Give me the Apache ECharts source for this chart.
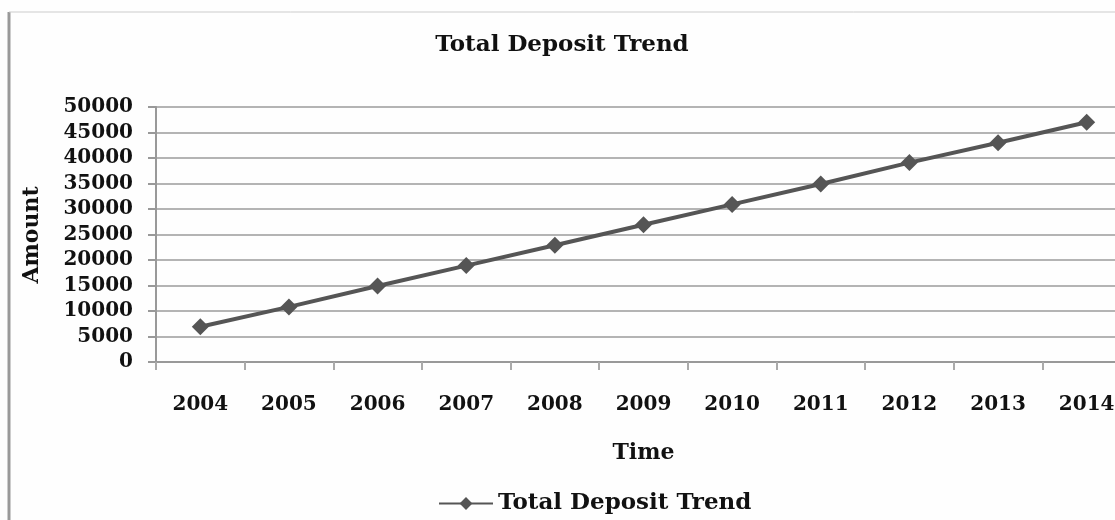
<!DOCTYPE html>
<html><head><meta charset="utf-8">
<script src="https://cdn.jsdelivr.net/npm/echarts@6/dist/echarts.min.js"></script>
<style>html,body{margin:0;padding:0;background:#fff;overflow:hidden}#c{width:1135px;height:520px}</style>
</head><body><div id="c"></div>
<script>
var categories = ['2004','2005','2006','2007','2008','2009','2010','2011','2012','2013','2014'];
var depositValues = [6900, 10800, 14900, 18900, 22900, 26900, 30900, 34900, 39100, 43000, 47000];
var seriesName = 'Total Deposit Trend';
var chartTitle = 'Total Deposit Trend';
var xAxisName = 'Time';
var yAxisName = 'Amount';

var font = '"DejaVu Serif",serif';
var chart = echarts.init(document.getElementById('c'));
chart.setOption({
  animation: false,
  backgroundColor: '#fefefe',
  title: {text: chartTitle, left: 557, top: 29, textAlign: 'center',
    textStyle: {fontFamily: font, fontWeight: 'bold', fontSize: 23, color: '#111'}},
  legend: {data: [seriesName], left: 433, top: 487, itemWidth: 54, itemHeight: 16, itemGap: 5,
    textStyle: {fontFamily: font, fontWeight: 'bold', fontSize: 23, color: '#111'}},
  graphic: [
    {type: 'line', shape: {x1: 9, y1: 12, x2: 9, y2: 520}, style: {stroke: '#999', lineWidth: 3}},
    {type: 'line', shape: {x1: 9, y1: 12, x2: 1135, y2: 12}, style: {stroke: '#ccc', lineWidth: 1}},
    {type: 'text', x: 32, y: 235, rotation: Math.PI/2,
      style: {text: yAxisName, font: 'bold 22px ' + font, fill: '#111', align: 'center', verticalAlign: 'middle'}}
  ],
  grid: {left: 156, width: 975, top: 107, height: 255},
  xAxis: {type: 'category', data: categories, boundaryGap: true,
    name: xAxisName, nameLocation: 'middle', nameGap: 80,
    nameTextStyle: {fontFamily: font, fontWeight: 'bold', fontSize: 22, color: '#111'},
    axisLine: {lineStyle: {color: '#999', width: 2}},
    axisTick: {show: true, length: 8, lineStyle: {color: '#aaa', width: 2}},
    axisLabel: {fontFamily: font, fontWeight: 'bold', fontSize: 20, color: '#111', margin: 33}},
  yAxis: {type: 'value', min: 0, max: 50000, interval: 5000,
    axisLine: {show: true, lineStyle: {color: '#999', width: 2}},
    axisTick: {show: true, length: 8, lineStyle: {color: '#999', width: 2}},
    splitLine: {lineStyle: {color: '#b4b4b4', width: 2}},
    axisLabel: {fontFamily: font, fontWeight: 'bold', fontSize: 20, color: '#111', margin: 23,
      formatter: function (v) { return String(v); }}},
  series: [{name: seriesName, type: 'line', data: depositValues,
    symbol: 'diamond', symbolSize: 17,
    lineStyle: {color: '#555', width: 4},
    itemStyle: {color: '#555'}}]
});
</script></body></html>
